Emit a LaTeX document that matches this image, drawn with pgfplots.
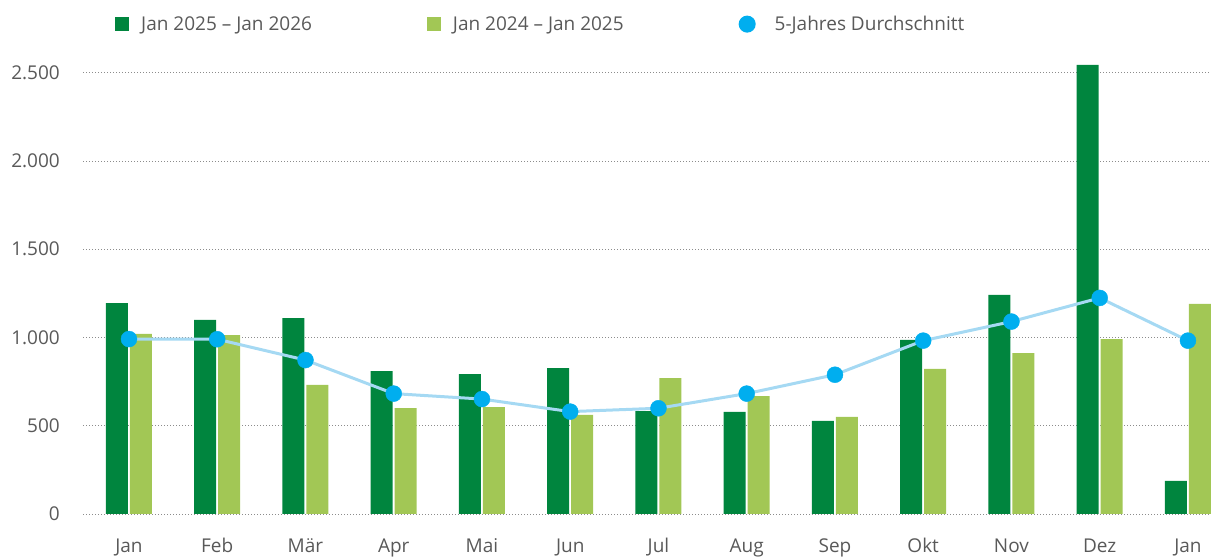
\documentclass[border=0pt]{standalone}
\usepackage{pgfplots}
\pgfplotsset{compat=1.18}
\usepackage{fontspec}
\setmainfont{Open Sans}
\definecolor{dgreen}{RGB}{0,133,62}
\definecolor{lgreen}{RGB}{162,199,85}
\definecolor{avgblue}{RGB}{0,174,239}
\definecolor{linblue}{RGB}{165,217,243}
\definecolor{txtgray}{RGB}{89,89,89}
\definecolor{gridgray}{RGB}{140,140,140}
\begin{document}
\begin{tikzpicture}[x=1bp,y=1bp]
\path[use as bounding box] (0,0) rectangle (1220,559);
\begin{axis}[
  at={(83bp,45bp)}, anchor=south west,
  scale only axis, width=1127bp, height=454bp,
  xmin=-0.521, xmax=12.25, ymin=0, ymax=2572,
  clip=false,
  axis line style={draw=none},
  major tick length=0pt,
  xtick={0,...,12},
  xticklabels={Jan,Feb,Mär,Apr,Mai,Jun,Jul,Aug,Sep,Okt,Nov,Dez,Jan},
  ytick={0,500,1000,1500,2000,2500},
  ymajorgrids,
  grid style={gridgray, line width=0.9bp, dash pattern=on 1bp off 2bp},
  tick label style={font=\fontsize{19bp}{22bp}\selectfont, text=txtgray},
  yticklabel style={/pgf/number format/.cd, 1000 sep={.}, assume math mode=true, /tikz/.cd, anchor=east, inner sep=0pt, xshift=-23bp},
  xticklabel style={anchor=base, inner sep=0pt, yshift=-39bp},
  legend columns=3,
  legend style={at={(0.0284,1.079)}, anchor=west, draw=none, fill=none, inner sep=0pt,
    font=\fontsize{19bp}{22bp}\selectfont, text=txtgray,
    /tikz/every even column/.append style={column sep=113bp}},
]
\addplot[ybar, bar width=22bp, bar shift=-12bp, fill=dgreen, draw=none,
  legend image code/.code={\fill[dgreen] (0bp,-7bp) rectangle (14bp,7bp); \path (24bp,0bp);}]
  coordinates {(0,1195) (1,1099) (2,1110) (3,810) (4,793) (5,827) (6,583) (7,578) (8,527) (9,986) (10,1241) (11,2544) (12,187)};
\addlegendentry{Jan 2025 – Jan 2026}
\addplot[ybar, bar width=22bp, bar shift=12bp, fill=lgreen, draw=none,
  legend image code/.code={\fill[lgreen] (0bp,-7bp) rectangle (14bp,7bp); \path (24bp,0bp);}]
  coordinates {(0,1020) (1,1014) (2,731) (3,600) (4,606) (5,561) (6,770) (7,668) (8,550) (9,822) (10,912) (11,991) (12,1190)};
\addlegendentry{Jan 2024 – Jan 2025}
\addplot[linblue, line width=3bp, mark=*, mark size=8bp, mark options={draw=avgblue, fill=avgblue, line width=0.4bp},
  legend image code/.code={\fill[avgblue] (7bp,0bp) circle (7bp); \path (31bp,0bp);}]
  coordinates {(0,991) (1,990) (2,872) (3,682) (4,651) (5,580) (6,599) (7,682) (8,789) (9,982) (10,1090) (11,1224) (12,982)};
\addlegendentry{5-Jahres Durchschnitt}
\end{axis}
\end{tikzpicture}
\end{document}
